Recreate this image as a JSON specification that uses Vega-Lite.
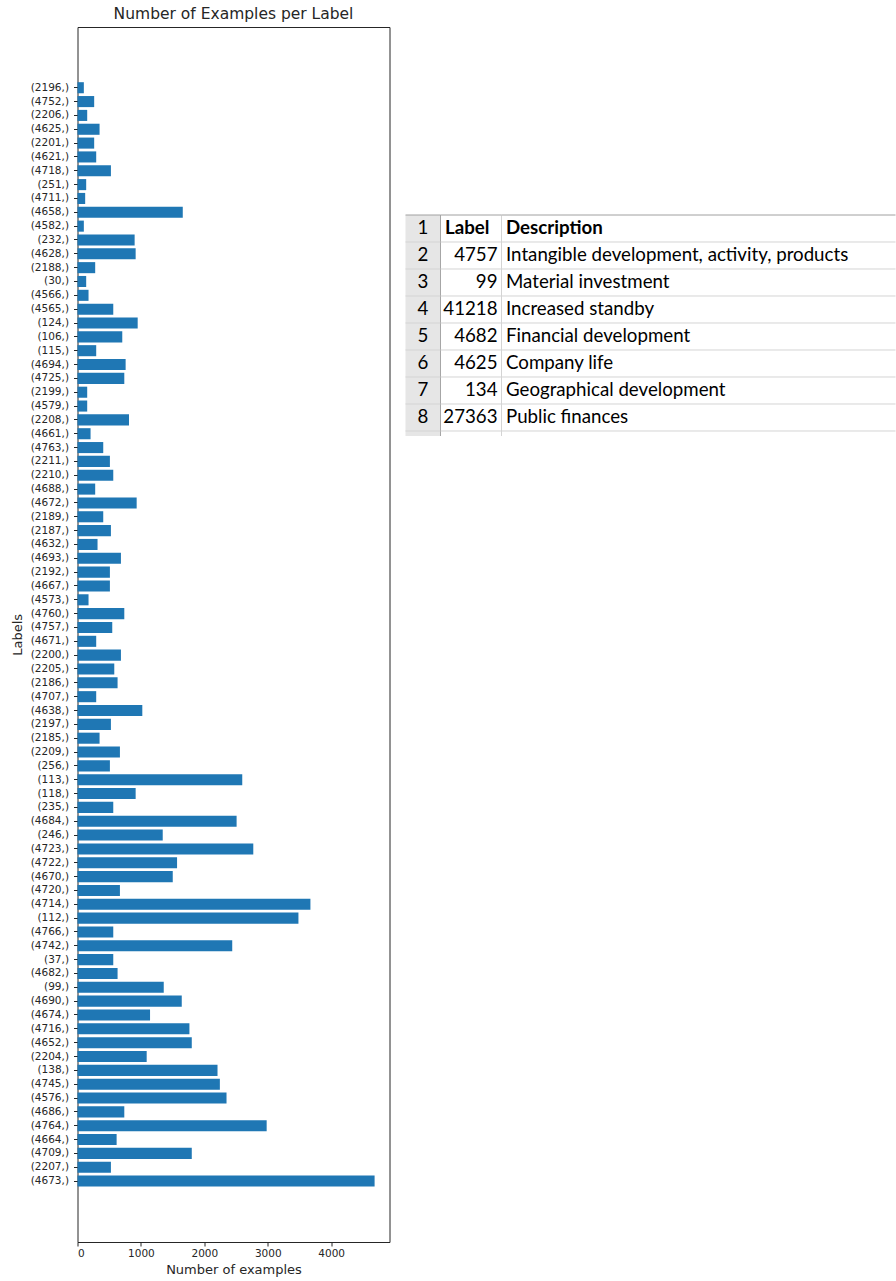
{
  "$schema": "https://vega.github.io/schema/vega-lite/v6.json",
  "background": "white",
  "padding": {"left": 10.5, "top": 6, "right": 0, "bottom": 0},
  "config": {"view": {"stroke": null}, "font": "DejaVu Sans"},
  "datasets": {
    "bars": [
      {"label": "(2196,)", "count": 100},
      {"label": "(4752,)", "count": 263},
      {"label": "(2206,)", "count": 153},
      {"label": "(4625,)", "count": 348},
      {"label": "(2201,)", "count": 263},
      {"label": "(4621,)", "count": 295},
      {"label": "(4718,)", "count": 527},
      {"label": "(251,)", "count": 137},
      {"label": "(4711,)", "count": 121},
      {"label": "(4658,)", "count": 1660},
      {"label": "(4582,)", "count": 100},
      {"label": "(232,)", "count": 901},
      {"label": "(4628,)", "count": 917},
      {"label": "(2188,)", "count": 279},
      {"label": "(30,)", "count": 137},
      {"label": "(4566,)", "count": 174},
      {"label": "(4565,)", "count": 564},
      {"label": "(124,)", "count": 949},
      {"label": "(106,)", "count": 706},
      {"label": "(115,)", "count": 295},
      {"label": "(4694,)", "count": 759},
      {"label": "(4725,)", "count": 738},
      {"label": "(2199,)", "count": 153},
      {"label": "(4579,)", "count": 153},
      {"label": "(2208,)", "count": 812},
      {"label": "(4661,)", "count": 206},
      {"label": "(4763,)", "count": 406},
      {"label": "(2211,)", "count": 511},
      {"label": "(2210,)", "count": 564},
      {"label": "(4688,)", "count": 279},
      {"label": "(4672,)", "count": 933},
      {"label": "(2189,)", "count": 406},
      {"label": "(2187,)", "count": 527},
      {"label": "(4632,)", "count": 316},
      {"label": "(4693,)", "count": 685},
      {"label": "(2192,)", "count": 511},
      {"label": "(4667,)", "count": 511},
      {"label": "(4573,)", "count": 174},
      {"label": "(4760,)", "count": 738},
      {"label": "(4757,)", "count": 548},
      {"label": "(4671,)", "count": 295},
      {"label": "(2200,)", "count": 685},
      {"label": "(2205,)", "count": 580},
      {"label": "(2186,)", "count": 632},
      {"label": "(4707,)", "count": 295},
      {"label": "(4638,)", "count": 1022},
      {"label": "(2197,)", "count": 527},
      {"label": "(2185,)", "count": 348},
      {"label": "(2209,)", "count": 669},
      {"label": "(256,)", "count": 511},
      {"label": "(113,)", "count": 2598},
      {"label": "(118,)", "count": 917},
      {"label": "(235,)", "count": 564},
      {"label": "(4684,)", "count": 2509},
      {"label": "(246,)", "count": 1344},
      {"label": "(4723,)", "count": 2772},
      {"label": "(4722,)", "count": 1570},
      {"label": "(4670,)", "count": 1502},
      {"label": "(4720,)", "count": 669},
      {"label": "(4714,)", "count": 3673},
      {"label": "(112,)", "count": 3484},
      {"label": "(4766,)", "count": 564},
      {"label": "(4742,)", "count": 2440},
      {"label": "(37,)", "count": 564},
      {"label": "(4682,)", "count": 632},
      {"label": "(99,)", "count": 1360},
      {"label": "(4690,)", "count": 1644},
      {"label": "(4674,)", "count": 1144},
      {"label": "(4716,)", "count": 1765},
      {"label": "(4652,)", "count": 1802},
      {"label": "(2204,)", "count": 1091},
      {"label": "(138,)", "count": 2208},
      {"label": "(4745,)", "count": 2245},
      {"label": "(4576,)", "count": 2350},
      {"label": "(4686,)", "count": 738},
      {"label": "(4764,)", "count": 2983},
      {"label": "(4664,)", "count": 617},
      {"label": "(4709,)", "count": 1802},
      {"label": "(2207,)", "count": 527},
      {"label": "(4673,)", "count": 4685}
    ],
    "table": [
      {"row": "1", "label": "Label", "description": "Description"},
      {"row": "2", "label": "4757", "description": "Intangible development, activity, products"},
      {"row": "3", "label": "99", "description": "Material investment"},
      {"row": "4", "label": "41218", "description": "Increased standby"},
      {"row": "5", "label": "4682", "description": "Financial development"},
      {"row": "6", "label": "4625", "description": "Company life"},
      {"row": "7", "label": "134", "description": "Geographical development"},
      {"row": "8", "label": "27363", "description": "Public finances"}
    ]
  },
  "spacing": 14,
  "hconcat": [
    {
      "width": 312,
      "height": 1215,
      "data": {"name": "bars"},
      "view": {"stroke": "#262626", "strokeWidth": 1},
      "title": {"text": "Number of Examples per Label", "fontSize": 15.5, "fontWeight": "normal", "color": "#262626", "offset": 5},
      "mark": {"type": "bar", "color": "#1f77b4"},
      "encoding": {
        "y": {
          "field": "label", "type": "nominal", "sort": null,
          "scale": {"paddingInner": 0.2, "paddingOuter": 0, "range": [55.2, 1159.6]},
          "axis": {"title": "Labels", "domain": false, "tickSize": 4, "tickColor": "#262626", "labelPadding": 5, "labelFontSize": 10.5, "labelColor": "#262626", "titleFontSize": 13, "titleFontWeight": "normal", "titleColor": "#262626", "titlePadding": 6}
        },
        "x": {
          "field": "count", "type": "quantitative",
          "scale": {"domain": [0, 4920], "nice": false},
          "axis": {"title": "Number of examples", "values": [0, 1000, 2000, 3000, 4000], "format": "d", "grid": false, "domain": false, "tickSize": 4, "tickColor": "#262626", "labelPadding": 2, "labelFontSize": 10.5, "labelColor": "#262626", "titleFontSize": 13, "titleFontWeight": "normal", "titleColor": "#262626", "titlePadding": 5}
        }
      }
    },
    {
      "spacing": 0,
      "vconcat": [
        {
          "width": 490,
          "height": 187,
          "data": {"values": [{}]},
          "mark": {"type": "text"},
          "encoding": {"text": {"value": ""}}
        },
        {
          "spacing": 0,
          "bounds": "flush",
          "hconcat": [
            {
              "width": 35,
              "height": 221,
              "data": {"name": "table"},
              "view": {"fill": "#e6e6e6", "stroke": null},
              "layer": [
                {
                  "mark": {"type": "rule", "color": "#d4d4d4", "strokeWidth": 1},
                  "encoding": {"y": {"field": "row", "type": "ordinal", "sort": null, "bandPosition": 1, "scale": {"paddingInner": 0, "paddingOuter": 0.0926, "align": 0}, "axis": null}}
                },
                {
                  "transform": [{"filter": "datum.row == '1'"}],
                  "mark": {"type": "rule", "color": "#a0a0a0", "strokeWidth": 1},
                  "encoding": {"y": {"field": "row", "type": "ordinal", "sort": null, "bandPosition": 0, "axis": null}}
                },
                {
                  "transform": [{"filter": "datum.row == '1'"}],
                  "mark": {"type": "rule", "color": "#a6a6a6", "strokeWidth": 1},
                  "encoding": {"x": {"datum": 1, "type": "quantitative", "scale": {"domain": [0, 1], "nice": false, "zero": false}, "axis": null}}
                },
                {
                  "mark": {"type": "text", "font": "Lato", "fontSize": 18.7, "color": "#000000", "baseline": "middle"},
                  "encoding": {
                    "y": {"field": "row", "type": "ordinal", "sort": null, "axis": null},
                    "text": {"field": "row"}
                  }
                }
              ]
            },
            {
              "width": 61,
              "height": 221,
              "data": {"name": "table"},
              "layer": [
                {
                  "mark": {"type": "rule", "color": "#d4d4d4", "strokeWidth": 1},
                  "encoding": {"y": {"field": "row", "type": "ordinal", "sort": null, "bandPosition": 1, "scale": {"paddingInner": 0, "paddingOuter": 0.0926, "align": 0}, "axis": null}}
                },
                {
                  "transform": [{"filter": "datum.row == '1'"}],
                  "mark": {"type": "rule", "color": "#a0a0a0", "strokeWidth": 1},
                  "encoding": {"y": {"field": "row", "type": "ordinal", "sort": null, "bandPosition": 0, "axis": null}}
                },
                {
                  "transform": [{"filter": "datum.row == '1'"}],
                  "mark": {"type": "rule", "color": "#d4d4d4", "strokeWidth": 1},
                  "encoding": {"x": {"datum": 1, "type": "quantitative", "scale": {"domain": [0, 1], "nice": false, "zero": false}, "axis": null}}
                },
                {
                  "transform": [{"filter": "datum.row == '1'"}],
                  "mark": {"type": "text", "font": "Lato", "fontSize": 18.7, "fontWeight": "bold", "color": "#000000", "align": "left", "baseline": "middle", "dx": 4.5},
                  "encoding": {
                    "y": {"field": "row", "type": "ordinal", "sort": null, "axis": null},
                    "x": {"datum": 0, "type": "quantitative"},
                    "text": {"field": "label"}
                  }
                },
                {
                  "transform": [{"filter": "datum.row != '1'"}],
                  "mark": {"type": "text", "font": "Lato", "fontSize": 18.7, "color": "#000000", "align": "right", "baseline": "middle", "dx": -4},
                  "encoding": {
                    "y": {"field": "row", "type": "ordinal", "sort": null, "axis": null},
                    "x": {"datum": 1, "type": "quantitative"},
                    "text": {"field": "label"}
                  }
                }
              ]
            },
            {
              "width": 394,
              "height": 221,
              "data": {"name": "table"},
              "layer": [
                {
                  "mark": {"type": "rule", "color": "#d4d4d4", "strokeWidth": 1},
                  "encoding": {"y": {"field": "row", "type": "ordinal", "sort": null, "bandPosition": 1, "scale": {"paddingInner": 0, "paddingOuter": 0.0926, "align": 0}, "axis": null}}
                },
                {
                  "transform": [{"filter": "datum.row == '1'"}],
                  "mark": {"type": "rule", "color": "#a0a0a0", "strokeWidth": 1},
                  "encoding": {"y": {"field": "row", "type": "ordinal", "sort": null, "bandPosition": 0, "axis": null}}
                },
                {
                  "transform": [{"filter": "datum.row == '1'"}],
                  "mark": {"type": "text", "font": "Lato", "fontSize": 18.7, "fontWeight": "bold", "color": "#000000", "align": "left", "baseline": "middle", "dx": 4.5},
                  "encoding": {
                    "y": {"field": "row", "type": "ordinal", "sort": null, "axis": null},
                    "x": {"datum": 0, "type": "quantitative", "scale": {"domain": [0, 1], "nice": false, "zero": false}, "axis": null},
                    "text": {"field": "description"}
                  }
                },
                {
                  "transform": [{"filter": "datum.row != '1'"}],
                  "mark": {"type": "text", "font": "Lato", "fontSize": 18.7, "color": "#000000", "align": "left", "baseline": "middle", "dx": 4.5},
                  "encoding": {
                    "y": {"field": "row", "type": "ordinal", "sort": null, "axis": null},
                    "x": {"datum": 0, "type": "quantitative"},
                    "text": {"field": "description"}
                  }
                }
              ]
            }
          ]
        }
      ]
    }
  ]
}
